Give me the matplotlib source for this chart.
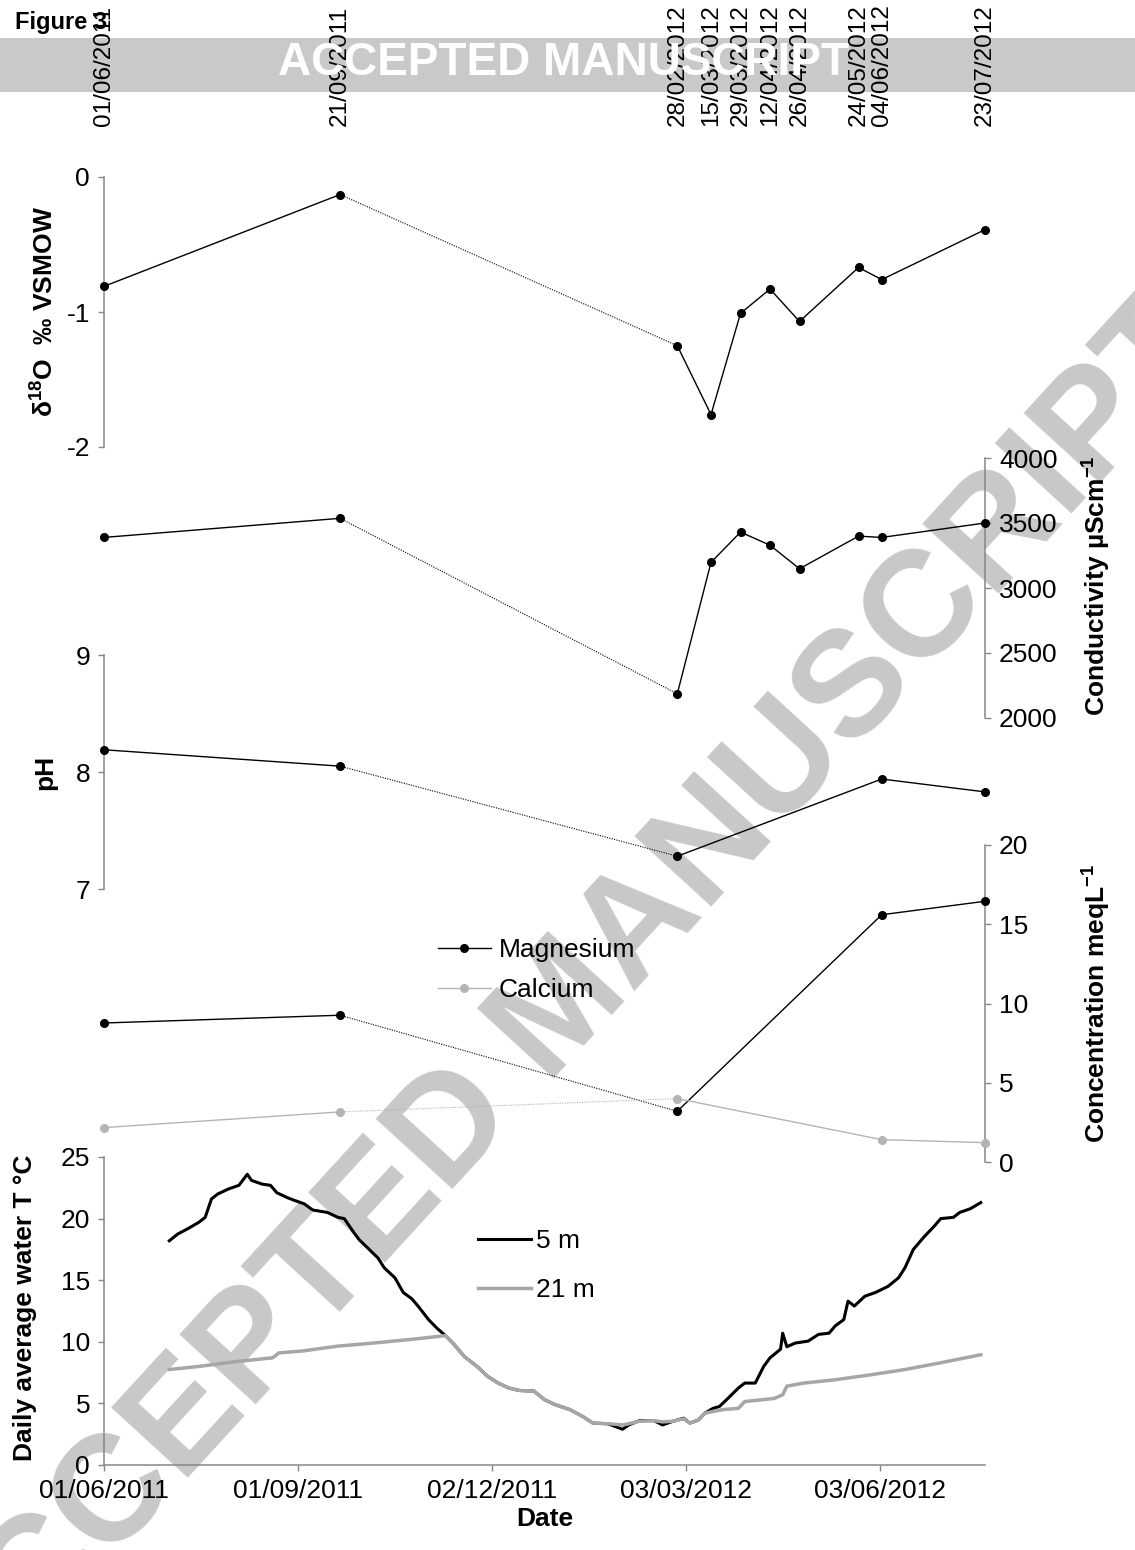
import numpy as np
import pandas as pd
import matplotlib
matplotlib.use("Agg")
import matplotlib.pyplot as plt
import matplotlib.dates as mdates
from matplotlib.patches import Rectangle

plt.rcParams['font.family'] = ['Liberation Sans', 'DejaVu Sans']
plt.rcParams['axes.unicode_minus'] = False
plt.rcParams['mathtext.fontset'] = 'custom'
plt.rcParams['mathtext.rm'] = 'Liberation Sans'
plt.rcParams['mathtext.it'] = 'Liberation Sans:italic'
plt.rcParams['mathtext.bf'] = 'Liberation Sans:bold'

# sampling campaigns (isotopes + conductivity)
sample_dates = ['01/06/2011', '21/09/2011', '28/02/2012', '15/03/2012', '29/03/2012',
                '12/04/2012', '26/04/2012', '24/05/2012', '04/06/2012', '23/07/2012']
d18o = [-0.81, -0.13, -1.25, -1.76, -1.01, -0.83, -1.07, -0.67, -0.76, -0.39]
conductivity = [3389, 3536, 2186, 3197, 3430, 3329, 3148, 3399, 3389, 3500]

# major ion campaigns
chem_dates = ['01/06/2011', '21/09/2011', '28/02/2012', '04/06/2012', '23/07/2012']
ph = [8.19, 8.05, 7.28, 7.94, 7.83]
magnesium = [8.77, 9.26, 3.20, 15.6, 16.45]
calcium = [2.17, 3.16, 4.00, 1.41, 1.22]

# logger record, days since 1 June 2011 -> daily mean temperature
t_start = '2011-06-01'
t5_day = [31, 35, 40, 45, 48, 51, 54, 59, 64, 68, 70, 75, 79, 82, 87, 90, 95, 99, 106, 111,
          114, 118, 121, 127, 130, 133, 138, 142, 146, 149, 154, 158, 162, 166, 171, 177,
          182, 187, 192, 197, 204, 209, 214, 221, 227, 232, 239, 243, 246, 249, 254, 261,
          265, 270, 275, 278, 282, 285, 289, 292, 296, 301, 304, 309, 313, 316, 321, 322,
          324, 328, 334, 339, 344, 347, 351, 353, 356, 361, 366, 372, 377, 380, 384, 389,
          394, 397, 403, 406, 411, 416]
t5_val = [18.2, 18.75, 19.2, 19.7, 20.1, 21.6, 22.0, 22.4, 22.7, 23.6, 23.1, 22.8, 22.7, 22.1,
          21.7, 21.5, 21.2, 20.7, 20.5, 20.1, 20.0, 19.0, 18.3, 17.3, 16.8, 16.0, 15.2, 14.0,
          13.5, 12.9, 11.8, 11.1, 10.5, 9.8, 8.8, 8.0, 7.2, 6.65, 6.25, 6.05, 6.0, 5.3, 4.9,
          4.5, 3.95, 3.4, 3.35, 3.1, 2.9, 3.25, 3.6, 3.6, 3.25, 3.55, 3.8, 3.4, 3.65, 4.2,
          4.6, 4.75, 5.4, 6.25, 6.65, 6.65, 8.0, 8.7, 9.4, 10.7, 9.6, 9.9, 10.05, 10.6, 10.7,
          11.3, 11.8, 13.3, 12.9, 13.7, 14.0, 14.5, 15.2, 16.0, 17.5, 18.5, 19.4, 20.0, 20.1,
          20.5, 20.8, 21.3]
t21_day = [31, 45, 63, 80, 83, 94, 111, 128, 146, 162, 166, 171, 177, 182, 187, 192, 197,
           204, 209, 214, 221, 227, 232, 239, 243, 246, 249, 254, 261, 265, 270, 275, 278,
           282, 285, 289, 294, 301, 304, 318, 322, 324, 332, 346, 363, 380, 397, 416]
t21_val = [7.75, 8.0, 8.4, 8.7, 9.1, 9.25, 9.65, 9.9, 10.2, 10.5, 9.8, 8.8, 8.0, 7.2, 6.65,
           6.25, 6.05, 6.0, 5.3, 4.9, 4.5, 3.95, 3.4, 3.35, 3.3, 3.25, 3.35, 3.55, 3.6, 3.5,
           3.55, 3.75, 3.4, 3.65, 4.2, 4.35, 4.5, 4.6, 5.15, 5.4, 5.7, 6.4, 6.65, 6.9, 7.3,
           7.75, 8.3, 8.95]

date_ticks = ['01/06/2011', '01/09/2011', '02/12/2011', '03/03/2012', '03/06/2012']
x_end = '23/07/2012'

W, H = 1135, 1550
SPINE = '#868686'
FS = 19
LFS = 19


def to_dates(lst):
    return pd.to_datetime(lst, dayfirst=True)


def box(left, top, right, bottom):
    return [left / W, 1 - bottom / H, (right - left) / W, (bottom - top) / H]


def panel(fig, rect, side):
    ax = fig.add_axes(box(*rect))
    ax.patch.set_visible(False)
    for s in ax.spines.values():
        s.set_visible(False)
    ax.spines[side].set_visible(True)
    ax.spines[side].set_color(SPINE)
    ax.spines[side].set_linewidth(1.1)
    ax.set_xlim(to_dates(['01/06/2011'])[0], to_dates([x_end])[0])
    ax.set_xticks([])
    if side == 'right':
        ax.yaxis.tick_right()
    ax.tick_params(axis='y', direction='out', length=4, width=1, color=SPINE,
                   labelsize=FS, pad=6)
    return ax


def draw_series(ax, dates, vals, color, label=None, ms=5.5):
    # the long winter gap between campaigns is drawn dotted
    ax.plot(dates[:2], vals[:2], '-', color=color, lw=1.0, marker='o', ms=ms,
            label=label, clip_on=False, zorder=3)
    ax.plot(dates[1:3], vals[1:3], color=color, lw=0.8, ls=(0, (1, 1.2)),
            clip_on=False, zorder=2)
    ax.plot(dates[2:], vals[2:], '-', color=color, lw=1.0, marker='o', ms=ms,
            clip_on=False, zorder=3)


fig = plt.figure(figsize=(W / 100, H / 100), dpi=100)

# watermark
fig.text(564 / W, 1 - 1010 / H, 'ACCEPTED MANUSCRIPT', rotation=47.5, rotation_mode='anchor',
         fontsize=108, fontweight='bold', color='#c8c8c8', ha='center', va='center', zorder=-5)
fig.patches.append(Rectangle((0, 1 - 92 / H), 1, (92 - 38) / H, transform=fig.transFigure,
                             facecolor='#c8c9cb', edgecolor='none', zorder=-4))

sd = to_dates(sample_dates)
cd = to_dates(chem_dates)

# oxygen isotopes
ax1 = panel(fig, (104, 177, 985, 447), 'left')
ax1.set_ylim(-2, 0)
ax1.set_yticks([-2, -1, 0])
draw_series(ax1, sd, d18o, 'black')
ax1.xaxis.tick_top()
ax1.set_xticks(sd)
ax1.set_xticklabels([d.strftime('%d/%m/%Y') for d in sd], rotation=90, fontsize=17.5)
ax1.tick_params(axis='x', length=0, pad=37)
fig.text(45 / W, 1 - 312 / H, r'δ$^{\mathbf{18}}$O  ‰ VSMOW', rotation=90, fontsize=LFS,
         fontweight='bold', ha='center', va='center')

# conductivity
ax2 = panel(fig, (104, 458, 985, 718), 'right')
ax2.set_ylim(2000, 4000)
ax2.set_yticks(np.arange(2000, 4001, 500))
draw_series(ax2, sd, conductivity, 'black')
fig.text(1097 / W, 1 - 586 / H, r'Conductivity µScm$^{\mathbf{-1}}$', rotation=90,
         fontsize=LFS, fontweight='bold', ha='center', va='center')

# pH
ax3 = panel(fig, (104, 655, 985, 889), 'left')
ax3.set_ylim(7, 9)
ax3.set_yticks([7, 8, 9])
draw_series(ax3, cd, ph, 'black')
fig.text(45 / W, 1 - 772 / H, 'pH', rotation=90, fontsize=LFS, fontweight='bold',
         ha='center', va='center')

# major ions
ax4 = panel(fig, (104, 845, 985, 1162), 'right')
ax4.set_ylim(0, 20)
ax4.set_yticks(np.arange(0, 21, 5))
draw_series(ax4, cd, magnesium, 'black', label='Magnesium')
draw_series(ax4, cd, calcium, '#b4b4b4', label='Calcium')
ax4.legend(loc='upper left', bbox_to_anchor=(438 / W, 1 - 938 / H),
           bbox_transform=fig.transFigure, frameon=False, fontsize=FS, borderpad=0,
           borderaxespad=0, handlelength=2.0, handletextpad=0.3, labelspacing=0.6)
fig.text(1097 / W, 1 - 1003 / H, r'Concentration meqL$^{\mathbf{-1}}$', rotation=90,
         fontsize=LFS, fontweight='bold', ha='center', va='center')

# water temperature
ax5 = panel(fig, (104, 1157, 985, 1465), 'left')
ax5.spines['bottom'].set_visible(True)
ax5.spines['bottom'].set_color(SPINE)
ax5.spines['bottom'].set_linewidth(1.1)
ax5.set_ylim(0, 25)
ax5.set_yticks(np.arange(0, 26, 5))
t0 = pd.Timestamp(t_start)
d5 = t0 + pd.to_timedelta(t5_day, unit='D')
d21 = t0 + pd.to_timedelta(t21_day, unit='D')
ax5.plot(d5, t5_val, color='black', lw=2.2, label='5 m', zorder=3)
ax5.plot(d21, t21_val, color='#a6a6a6', lw=2.5, label='21 m', zorder=4)
ax5.set_xticks(to_dates(date_ticks))
ax5.xaxis.set_major_formatter(mdates.DateFormatter('%d/%m/%Y'))
ax5.tick_params(axis='x', direction='out', length=4, width=1, color=SPINE, labelsize=FS, pad=6)
ax5.legend(loc='upper left', bbox_to_anchor=(478 / W, 1 - 1229 / H),
           bbox_transform=fig.transFigure, frameon=False, fontsize=FS, borderpad=0,
           borderaxespad=0, handlelength=2.0, handletextpad=0.2, labelspacing=0.95)
ax5.set_xlabel('Date', fontsize=LFS, fontweight='bold', labelpad=3)
fig.text(25 / W, 1 - 1308 / H, 'Daily average water T °C', rotation=90, fontsize=LFS,
         fontweight='bold', ha='center', va='center')

# header
fig.text(15 / W, 1 - 23 / H, 'Figure 3', fontsize=17, fontweight='bold', ha='left', va='center')
fig.text(563 / W, 1 - 63 / H, 'ACCEPTED MANUSCRIPT', fontsize=33, fontweight='bold',
         color='white', ha='center', va='center', zorder=10)

fig.savefig('out.png', dpi=100)
